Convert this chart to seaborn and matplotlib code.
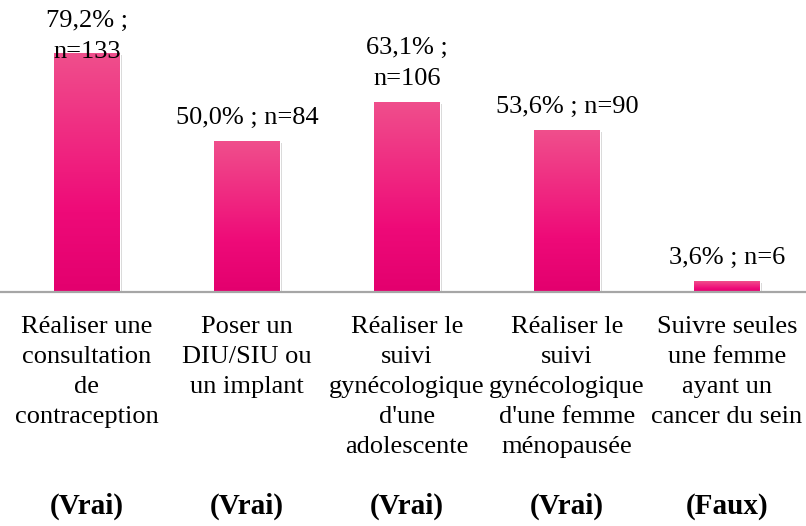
import numpy as np
import pandas as pd
import matplotlib
matplotlib.use("Agg")
import matplotlib.pyplot as plt
import matplotlib.transforms as mtransforms
import matplotlib.patheffects as pe
from matplotlib.colors import LinearSegmentedColormap
import seaborn as sns

categories = [
    "Réaliser une\nconsultation\nde\ncontraception",
    "Poser un\nDIU/SIU ou\nun implant",
    "Réaliser le\nsuivi\ngynécologique\nd'une\nadolescente",
    "Réaliser le\nsuivi\ngynécologique\nd'une femme\nménopausée",
    "Suivre seules\nune femme\nayant un\ncancer du sein",
]
values = [79.2, 50.0, 63.1, 53.6, 3.6]
counts = [133, 84, 106, 90, 6]
value_labels = ["79,2% ;\nn=133", "50,0% ; n=84", "63,1% ;\nn=106", "53,6% ; n=90", "3,6% ; n=6"]
answers = ["(Vrai)", "(Vrai)", "(Vrai)", "(Vrai)", "(Faux)"]

sns.set_theme(style="white")
plt.rcParams["font.family"] = ["Liberation Serif", "DejaVu Serif"]

df = pd.DataFrame({"cat": categories, "val": values})

W, H = 806, 526
fig = plt.figure(figsize=(W / 100, H / 100), dpi=100)
axis_y = 292
scale = 239 / 79.2
ymax = 90
ax = fig.add_axes([0, (H - axis_y) / H, 1, ymax * scale / H])

sns.barplot(data=df, x="cat", y="val", color="#EC0C78", width=0.41, ax=ax,
            saturation=1, errorbar=None)

ax.set_yticks([])
ax.set_xlabel("")
ax.set_ylabel("")
ax.set_xticks(range(len(categories)))
ax.set_xticklabels([""] * len(categories))
for s in ["left", "right", "top"]:
    ax.spines[s].set_visible(False)
ax.spines["bottom"].set_color("#A6A6A6")
ax.spines["bottom"].set_linewidth(1.6)
ax.tick_params(axis="x", length=0)
ax.set_facecolor("none")

cmap = LinearSegmentedColormap.from_list(
    "pinkgrad", ["#E3006E", "#EE0A78", "#F02C82", "#EF4F8C"])
grad = np.linspace(0, 1, 256).reshape(-1, 1)
for p in ax.patches:
    x0, y0 = p.get_x(), p.get_y()
    w, h = p.get_width(), p.get_height()
    p.set_path_effects([pe.SimplePatchShadow(offset=(1.5, -1.5), shadow_rgbFace="#808080", alpha=0.35),
                        pe.Normal()])
    im = ax.imshow(grad, cmap=cmap, aspect="auto", origin="lower",
                   extent=[x0, x0 + w, y0, y0 + h], zorder=p.get_zorder() + 0.1,
                   interpolation="bilinear")
    im.set_clip_path(p)
ax.set_xlim(-87 / 160, (W - 87) / 160)
ax.set_ylim(0, ymax)

FS = 19
# value labels: each line placed on its own baseline (pixel offsets above bar top)
last_base = [-5, 17, 17, 17, 17]
line_gap = 31
for i, (v, lab) in enumerate(zip(values, value_labels)):
    lines = lab.split("\n")
    n = len(lines)
    for k, line in enumerate(lines):
        ax.annotate(line, xy=(i, v),
                    xytext=(0, last_base[i] + (n - 1 - k) * line_gap),
                    textcoords="offset pixels", ha="center", va="baseline",
                    fontsize=FS, color="black", zorder=5, annotation_clip=False)

# category labels under the axis, one baseline per line
trans = mtransforms.blended_transform_factory(ax.transData, fig.transFigure)
first_base = 333
cat_gap = 30
for i, cat in enumerate(categories):
    for k, line in enumerate(cat.split("\n")):
        fig.text(i, (H - (first_base + k * cat_gap)) / H, line, transform=trans,
                 ha="center", va="baseline", fontsize=FS, color="black")

for i, a in enumerate(answers):
    fig.text(i, (H - 514) / H, a, transform=trans, ha="center", va="baseline",
             fontsize=21, fontweight="bold", color="black")

fig.savefig("out.png", dpi=100, facecolor="white")
